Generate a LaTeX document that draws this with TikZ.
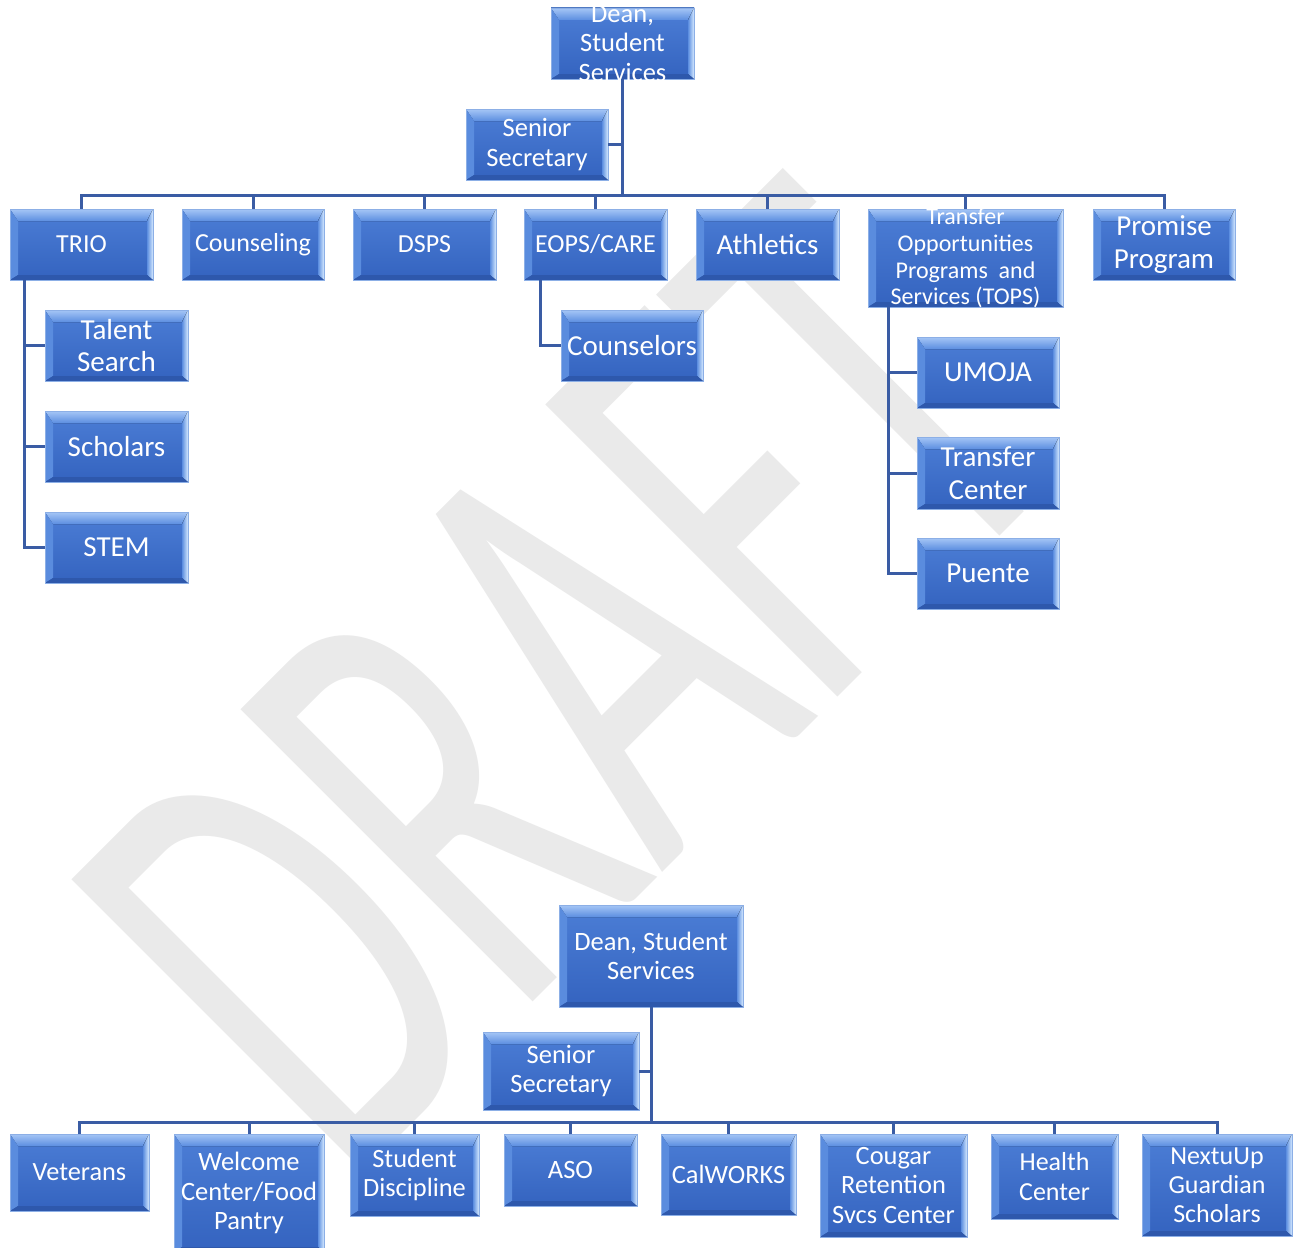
\documentclass[tikz,border=0pt]{standalone}
\usepackage{fontspec}
\usepackage{graphicx}
\setmainfont{Carlito}

\definecolor{facetop}{RGB}{76,126,214}
\definecolor{facebottom}{RGB}{52,99,191}
\definecolor{bevelouter}{RGB}{165,198,246}
\definecolor{bevelinner}{RGB}{92,142,224}
\definecolor{bevelleft}{RGB}{90,140,222}
\definecolor{bevelright}{RGB}{214,234,255}
\definecolor{bevelbottom}{RGB}{46,88,172}
\definecolor{boxedge}{RGB}{140,175,230}
\definecolor{linkblue}{RGB}{58,92,164}
\definecolor{watermark}{RGB}{234,234,234}

\tikzset{
  x=1pt, y=-1pt,
  link/.style={draw=linkblue, line width=3pt},
  unitbox/.style={
    rectangle, inner sep=0pt, outer sep=0pt,
    draw=boxedge, line width=0.8pt,
    top color=facetop, bottom color=facebottom,
    path picture={
      \path (path picture bounding box.north west) coordinate (pnw)
            (path picture bounding box.north east) coordinate (pne)
            (path picture bounding box.south west) coordinate (psw)
            (path picture bounding box.south east) coordinate (pse);
      % top bevel
      \fill[top color=bevelouter, bottom color=bevelinner]
        (pnw) -- (pne) -- ([xshift=-6pt,yshift=-12pt]pne)
        -- ([xshift=8pt,yshift=-12pt]pnw) -- cycle;
      % left bevel
      \fill[bevelleft]
        (pnw) -- ([xshift=8pt,yshift=-12pt]pnw)
        -- ([xshift=8pt,yshift=5pt]psw) -- (psw) -- cycle;
      % right bevel
      \fill[left color=bevelinner, right color=bevelright]
        (pne) -- (pse) -- ([xshift=-6pt,yshift=5pt]pse)
        -- ([xshift=-6pt,yshift=-12pt]pne) -- cycle;
      % bottom bevel
      \fill[bevelbottom]
        (psw) -- (pse) -- ([xshift=-6pt,yshift=5pt]pse)
        -- ([xshift=8pt,yshift=5pt]psw) -- cycle;
    }
  },
  unitlabel/.style={text=white, align=center, inner sep=0pt, outer sep=0pt}
}

% #1 name, #2-#5 corners (x1,y1,x2,y2), #6 font size, #7 label
\newcommand\orgunit[7]{%
  \pgfmathsetmacro\ouw{#4-#2}%
  \pgfmathsetmacro\ouh{#5-#3}%
  \pgfmathsetmacro\oubs{1.12*#6}%
  \node[unitbox, minimum width=\ouw pt, minimum height=\ouh pt]
    (#1) at ({(#2+#4)/2},{(#3+#5)/2}) {};
  \node[unitlabel, font=\fontsize{#6}{\oubs}\selectfont] (#1-label) at (#1.center) {#7};
}

\begin{document}
\begin{tikzpicture}
\useasboundingbox (0,0) rectangle (1297,1247);
\clip (0,0) rectangle (1297,1247);
\fill[white] (0,0) rectangle (1297,1247);

% diagonal watermark
\node[anchor=base west, rotate=45, inner sep=0pt, outer sep=0pt, text=watermark,
      font=\fontsize{644}{644}\selectfont] (draftmark) at (345,1190)
  {\scalebox{0.6}[1]{DRAFT}};

% ---------- upper chart ----------
\orgunit{dean}{551}{8}{694}{79}{26.5}{Dean,\\Student\\Services}
\orgunit{sec}{466}{109}{608}{180}{26.5}{Senior\\Secretary}
\orgunit{trio}{10}{209}{153}{280}{26}{TRIO}
\orgunit{couns}{182}{209}{324}{280}{26}{Counseling}
\orgunit{dsps}{353}{209}{496}{280}{26}{DSPS}
\orgunit{eops}{524}{209}{667}{280}{26}{EOPS/CARE}
\orgunit{ath}{696}{209}{839}{280}{29}{Athletics}
\orgunit{tops}{868}{209}{1063}{307}{24}{Transfer\\Opportunities\\Programs\ \ and\\Services (TOPS)}
\orgunit{prom}{1093}{209}{1235}{280}{29}{Promise\\Program}
\orgunit{talent}{45}{310}{188}{381}{29}{Talent\\Search}
\orgunit{schol}{45}{411}{188}{482}{29}{Scholars}
\orgunit{stem}{45}{512}{188}{583}{29}{STEM}
\orgunit{cnsl}{561}{310}{703}{381}{29}{Counselors}
\orgunit{umoja}{917}{337}{1059}{408}{29}{UMOJA}
\orgunit{tcen}{917}{437}{1059}{509}{29}{Transfer\\Center}
\orgunit{puente}{917}{538}{1059}{609}{29}{Puente}

\coordinate (busA) at (dean.south |- 0,195);
\draw[link] (dean.south) -- (busA);
\draw[link] (sec.east) -- (sec.east -| busA);
\foreach \n in {trio,couns,dsps,eops,ath,tops,prom}
  \draw[link] (busA) -| (\n.north);
\foreach \n in {talent,schol,stem}
  \draw[link] ([xshift=14pt]trio.south west) |- (\n.west);
\draw[link] ([xshift=16pt]eops.south west) |- (cnsl.west);
\foreach \n in {umoja,tcen,puente}
  \draw[link] ([xshift=20pt]tops.south west) |- (\n.west);

% ---------- lower chart ----------
\orgunit{deanb}{559}{905}{743}{1007}{26.5}{Dean, Student\\Services}
\orgunit{secb}{483}{1032}{639}{1110}{26.5}{Senior\\Secretary}
\orgunit{vet}{10}{1134}{149}{1211}{26.3}{Veterans}
\orgunit{welc}{174}{1134}{324}{1252}{26.5}{Welcome\\Center/Food\\Pantry}
\orgunit{disc}{350}{1134}{479}{1216}{26.4}{Student\\Discipline}
\orgunit{aso}{504}{1134}{637}{1206}{26.5}{ASO}
\orgunit{calw}{661}{1134}{796}{1215}{26.4}{CalWORKS}
\orgunit{coug}{820}{1134}{967}{1237}{26.4}{Cougar\\Retention\\Svcs Center}
\orgunit{health}{991}{1134}{1118}{1219}{26}{Health\\Center}
\orgunit{nxt}{1142}{1134}{1292}{1236}{26}{NextuUp\\Guardian\\Scholars}

\coordinate (busB) at (deanb.south |- 0,1122);
\draw[link] (deanb.south) -- (busB);
\draw[link] (secb.east) -- (secb.east -| busB);
\foreach \n in {vet,welc,disc,aso,calw,coug,health,nxt}
  \draw[link] (busB) -| (\n.north);
\end{tikzpicture}
\end{document}
